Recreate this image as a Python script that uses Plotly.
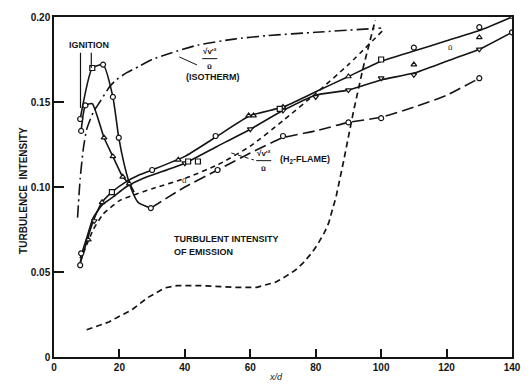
import plotly.graph_objects as go

# ---- data (x/d, turbulence intensity) ----
iso_x = [7.2, 8, 9, 10, 12, 14, 17, 19, 22, 26, 30, 36, 44, 55, 65, 80, 100]
iso_y = [0.082, 0.105, 0.123, 0.134, 0.144, 0.150, 0.159, 0.163, 0.167, 0.171,
         0.175, 0.179, 0.1835, 0.187, 0.189, 0.191, 0.1935]

ign_hi_x = [8, 11.7, 15.0, 18.0, 19.8, 21.5, 23.6, 25.7, 29.6]
ign_hi_y = [0.140, 0.170, 0.172, 0.153, 0.129, 0.113, 0.099, 0.091, 0.0876]

flame_lo_x = [29.6, 40, 50, 60, 70, 80, 90, 100, 110, 120, 130]
flame_lo_y = [0.0876, 0.100, 0.110, 0.120, 0.129, 0.133, 0.138, 0.141, 0.147, 0.154, 0.164]

ign_lo_x = [8.3, 9.6, 11.7, 15.3, 18, 21, 23, 24.5]
ign_lo_y = [0.133, 0.148, 0.149, 0.129, 0.118, 0.106, 0.102, 0.097]

top_x = [8, 10, 12, 14.7, 17.7, 22, 26, 30, 40, 50, 60, 70, 80, 90, 100, 110, 120, 130, 140]
top_y = [0.055, 0.068, 0.080, 0.091, 0.097, 0.103, 0.107, 0.110, 0.118, 0.130, 0.142,
         0.147, 0.156, 0.165, 0.174, 0.180, 0.186, 0.192, 0.200]

mid_x = [8, 10, 12, 15, 18, 22, 26, 30, 40, 50, 60, 70, 80, 90, 100, 110, 120, 130, 140]
mid_y = [0.058, 0.070, 0.082, 0.090, 0.094, 0.100, 0.104, 0.107, 0.114, 0.124, 0.134,
         0.145, 0.154, 0.157, 0.163, 0.167, 0.174, 0.181, 0.191]

h2_x = [8, 10, 12, 15, 20, 24, 30, 40, 50, 60, 70, 80, 90, 101]
h2_y = [0.056, 0.066, 0.075, 0.084, 0.092, 0.095, 0.099, 0.105, 0.113, 0.124, 0.139,
        0.155, 0.172, 0.193]

emis_x = [10, 13.8, 16.8, 20, 23.7, 28.7, 33.8, 37.7, 45, 55, 62, 67.7, 70.5, 73.7, 76,
          78.7, 80.5, 82.6, 84, 85, 86.2, 88.5, 91.6, 94.6, 97, 98.2]
emis_y = [0.016, 0.0185, 0.0206, 0.024, 0.0276, 0.035, 0.0406, 0.042, 0.042, 0.041,
          0.041, 0.044, 0.047, 0.051, 0.055, 0.061, 0.066, 0.073, 0.079, 0.086, 0.094,
          0.115, 0.145, 0.171, 0.190, 0.198]

# measured points
circ_x = [8, 15, 18, 19.8, 29.6, 8.3, 9.6, 50, 70, 90, 100, 130, 8, 8.3, 30, 49.4, 110, 130, 140]
circ_y = [0.140, 0.172, 0.153, 0.129, 0.0876, 0.133, 0.148, 0.110, 0.130, 0.138, 0.1405,
          0.164, 0.054, 0.061, 0.110, 0.130, 0.182, 0.194, 0.191]
tri_x = [10.5, 14.7, 15.3, 18, 21, 23, 38, 59.5, 61, 70, 90, 110, 130, 140]
tri_y = [0.069, 0.091, 0.129, 0.118, 0.106, 0.102, 0.116, 0.142, 0.142, 0.147, 0.165,
         0.172, 0.188, 0.200]
tdn_x = [12.3, 40, 60, 70, 80, 90, 100, 110, 130]
tdn_y = [0.080, 0.114, 0.134, 0.145, 0.153, 0.157, 0.164, 0.166, 0.181]
sq_x = [11.7, 17.7, 41, 44, 69, 100, 141]
sq_y = [0.170, 0.097, 0.115, 0.115, 0.146, 0.175, 0.191]

x_ticks = [0, 20, 40, 60, 80, 100, 120, 140]
y_ticks = [0, 0.05, 0.10, 0.15, 0.20]
y_tick_text = ["0", "0.05", "0.10", "0.15", "0.20"]

INK = "#141414"
FONT = "Liberation Sans"

fig = go.Figure()

def curve(x, y, dash="solid", width=1.6, shape="spline"):
    fig.add_trace(go.Scatter(x=x, y=y, mode="lines",
                             line=dict(color=INK, width=width, dash=dash, shape=shape,
                                       smoothing=0.5 if shape == "spline" else None),
                             hoverinfo="skip", showlegend=False))

curve(iso_x, iso_y, dash="12px,4px,2px,4px")
curve(ign_hi_x, ign_hi_y)
curve(flame_lo_x, flame_lo_y, dash="12px,5px")
curve(ign_lo_x, ign_lo_y)
curve(top_x, top_y)
curve(mid_x, mid_y)
curve(h2_x, h2_y, dash="5px,4px")
curve(emis_x, emis_y, dash="6px,4px", width=1.7, shape="linear")

def points(x, y, symbol):
    fig.add_trace(go.Scatter(x=x, y=y, mode="markers",
                             marker=dict(symbol=symbol, size=5, color="white",
                                         line=dict(color=INK, width=1.2)),
                             hoverinfo="skip", showlegend=False))

points(circ_x, circ_y, "circle")
points(tri_x, tri_y, "triangle-up")
points(tdn_x, tdn_y, "triangle-down")
points(sq_x, sq_y, "square")

ann_font = dict(family=FONT, size=9, color=INK)
small_font = dict(family=FONT, size=8, color=INK)


def label(x, y, text, font=ann_font, xanchor="center"):
    fig.add_annotation(x=x, y=y, text=text, showarrow=False, font=font, xanchor=xanchor)


def fraction(x, y):
    # sqrt(v'^2) over u-bar, with a short fraction bar
    label(x, y + 0.0045, "<b>√v'²</b>", small_font)
    fig.add_shape(type="line", x0=x - 2.3, x1=x + 2.3, y0=y, y1=y, line=dict(color=INK, width=1))
    label(x, y - 0.0045, "<b>ū</b>", small_font)


label(10.8, 0.1835, "<b>IGNITION</b>")
fraction(47.6, 0.1755)
label(48.5, 0.1647, "<b>(ISOTHERM)</b>")
fraction(64.1, 0.1155)
label(68.6, 0.1159, "<b>(H<sub>2</sub>-FLAME)</b>", xanchor="left")
label(36.2, 0.0694, "<b>TURBULENT INTENSITY</b>", xanchor="left")
label(36.2, 0.0618, "<b>OF EMISSION</b>", xanchor="left")
label(39.8, 0.104, "ū", small_font)
label(121, 0.182, "ū", small_font)

# leader lines
fig.add_shape(type="line", x0=8.1, y0=0.179, x1=8.1, y1=0.1465, line=dict(color=INK, width=1.2))
fig.add_shape(type="line", x0=11.4, y0=0.179, x1=11.4, y1=0.170, line=dict(color=INK, width=1.2))
fig.add_shape(type="line", x0=38.3, y0=0.1765, x1=43.7, y1=0.1718, line=dict(color=INK, width=1))
fig.add_shape(type="line", x0=54.2, y0=0.120, x1=61.1, y1=0.1159,
              line=dict(color=INK, width=1, dash="4px,3px"))

# axis titles
fig.add_annotation(x=-0.083, y=0.49, xref="paper", yref="paper", textangle=-90,
                   text="<b>TURBULENCE  INTENSITY</b>", showarrow=False,
                   font=dict(family=FONT, size=10, color=INK))
fig.add_annotation(x=68, y=-0.058, xref="x", yref="paper", yanchor="middle",
                   text="<i>x/d</i>", showarrow=False, font=dict(family=FONT, size=9, color=INK))

fig.update_layout(
    width=529, height=389,
    margin=dict(l=54, r=8, t=17, b=32),
    paper_bgcolor="white", plot_bgcolor="white",
    font=dict(family=FONT, size=10, color=INK),
)
fig.update_xaxes(range=[0, 140], tickvals=x_ticks, ticks="inside", ticklen=8, tickwidth=1.5,
                 tickcolor=INK, showline=True, linecolor=INK, linewidth=1.5, mirror=True,
                 showgrid=False, zeroline=False, tickfont=dict(family=FONT, size=10, weight="bold"))
fig.update_yaxes(range=[0, 0.2], tickvals=y_ticks, ticktext=y_tick_text, ticks="inside",
                 ticklen=10, tickwidth=1.5, tickcolor=INK, showline=True, linecolor=INK,
                 linewidth=1.5, mirror=True, showgrid=False, zeroline=False,
                 tickfont=dict(family=FONT, size=10, weight="bold"))

fig.write_html("out.html")
